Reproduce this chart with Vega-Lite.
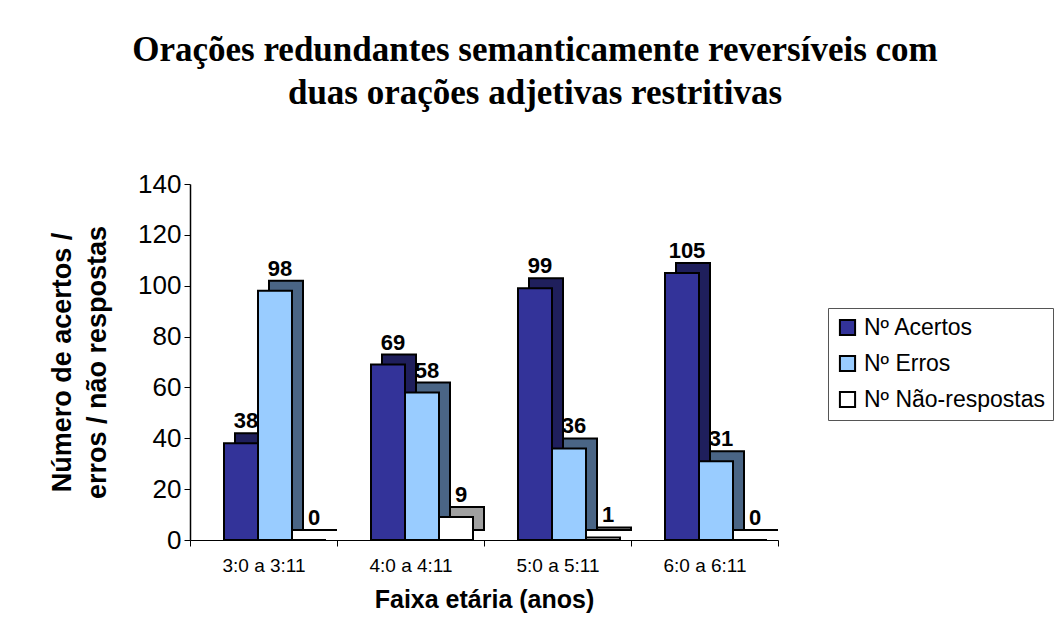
{
  "$schema": "https://vega.github.io/schema/vega-lite/v6.json",
  "width": 588,
  "height": 356,
  "autosize": {"type": "none"},
  "padding": {"left": 190, "top": 184, "right": 286, "bottom": 93},
  "background": "white",
  "title": {
    "text": ["Orações redundantes semanticamente reversíveis com", "duas orações adjetivas restritivas"],
    "font": "Liberation Serif",
    "fontSize": 35,
    "fontWeight": "bold",
    "color": "black",
    "anchor": "middle",
    "dx": 51,
    "offset": 60,
    "lineHeight": 43
  },
  "data": {
    "values": [
      {"faixa": "3:0 a 3:11", "serie": "Nº Acertos", "valor": 38},
      {"faixa": "3:0 a 3:11", "serie": "Nº Erros", "valor": 98},
      {"faixa": "3:0 a 3:11", "serie": "Nº Não-respostas", "valor": 0},
      {"faixa": "4:0 a 4:11", "serie": "Nº Acertos", "valor": 69},
      {"faixa": "4:0 a 4:11", "serie": "Nº Erros", "valor": 58},
      {"faixa": "4:0 a 4:11", "serie": "Nº Não-respostas", "valor": 9},
      {"faixa": "5:0 a 5:11", "serie": "Nº Acertos", "valor": 99},
      {"faixa": "5:0 a 5:11", "serie": "Nº Erros", "valor": 36},
      {"faixa": "5:0 a 5:11", "serie": "Nº Não-respostas", "valor": 1},
      {"faixa": "6:0 a 6:11", "serie": "Nº Acertos", "valor": 105},
      {"faixa": "6:0 a 6:11", "serie": "Nº Erros", "valor": 31},
      {"faixa": "6:0 a 6:11", "serie": "Nº Não-respostas", "valor": 0}
    ]
  },
  "encoding": {
    "x": {
      "field": "faixa",
      "type": "nominal",
      "sort": null,
      "scale": {"paddingInner": 0, "paddingOuter": 0},
      "axis": {
        "title": "Faixa etária (anos)",
        "labelAngle": 0,
        "labelFont": "Liberation Sans",
        "labelFontSize": 19,
        "labelColor": "black",
        "labelPadding": 10,
        "tickBand": "extent",
        "tickColor": "black",
        "tickSize": 6,
        "domainColor": "black",
        "titleFont": "Liberation Sans",
        "titleFontSize": 25,
        "titleFontWeight": "bold",
        "titleColor": "black",
        "titlePadding": 12
      }
    },
    "y": {
      "field": "valor",
      "type": "quantitative",
      "scale": {"domain": [0, 140]},
      "axis": {
        "values": [0, 20, 40, 60, 80, 100, 120, 140],
        "grid": false,
        "title": ["Número de acertos /", "erros / não respostas"],
        "labelFont": "Liberation Sans",
        "labelFontSize": 26,
        "labelColor": "black",
        "labelPadding": 3,
        "tickColor": "black",
        "tickSize": 6,
        "domainColor": "black",
        "domainWidth": 1.5,
        "titleFont": "Liberation Sans",
        "titleFontSize": 27,
        "titleFontWeight": "bold",
        "titleColor": "black",
        "titleLineHeight": 35,
        "titlePadding": 26
      }
    }
  },
  "layer": [
    {
      "mark": {"type": "bar", "yOffset": -10, "y2Offset": -10, "stroke": "black", "strokeWidth": 2},
      "encoding": {
        "xOffset": {"field": "serie", "sort": null, "scale": {"paddingInner": 0, "range": [45, 147]}},
        "color": {
          "field": "serie",
          "type": "nominal",
          "sort": null,
          "scale": {"range": ["#1F1F5C", "#4A6585", "#A0A0A0"]},
          "legend": null
        }
      }
    },
    {
      "mark": {"type": "bar", "stroke": "black", "strokeWidth": 2},
      "encoding": {
        "xOffset": {"field": "serie", "sort": null, "scale": {"paddingInner": 0, "range": [34, 136]}},
        "color": {
          "field": "serie",
          "type": "nominal",
          "sort": null,
          "scale": {"range": ["#333399", "#99CCFF", "#FFFFFF"]},
          "legend": {
            "title": null,
            "orient": "none",
            "legendX": 638,
            "legendY": 124,
            "direction": "vertical",
            "strokeColor": "#555555",
            "padding": 8,
            "symbolType": "square",
            "symbolSize": 230,
            "symbolStrokeColor": "black",
            "symbolStrokeWidth": 2,
            "labelFont": "Liberation Sans",
            "labelFontSize": 23,
            "labelColor": "black",
            "labelOffset": 5,
            "rowPadding": 11,
            "labelLimit": 300
          }
        }
      }
    },
    {
      "mark": {"type": "text", "font": "Liberation Sans", "fontSize": 22, "fontWeight": "bold", "color": "black", "baseline": "bottom", "dx": 5, "dy": -10},
      "encoding": {
        "xOffset": {"field": "serie", "sort": null, "scale": {"paddingInner": 0, "range": [34, 136]}},
        "text": {"field": "valor", "type": "quantitative"}
      }
    }
  ],
  "resolve": {"scale": {"color": "independent", "xOffset": "independent"}},
  "config": {"view": {"stroke": null}}
}
